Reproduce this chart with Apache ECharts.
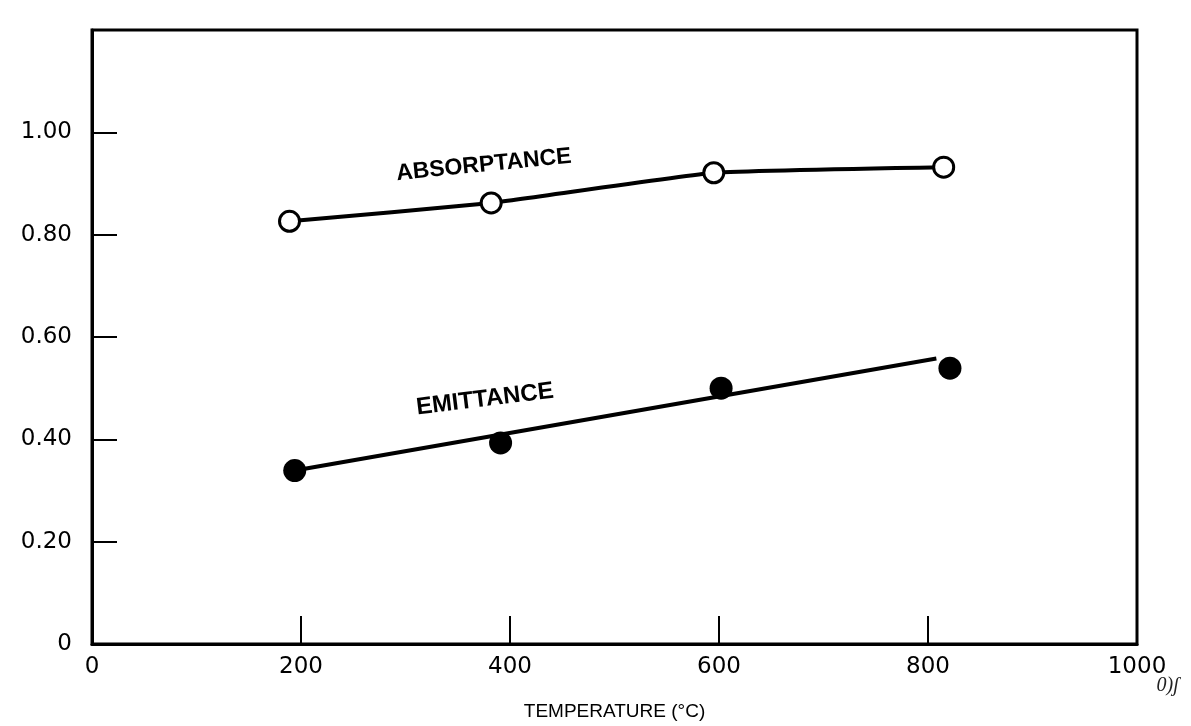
<!DOCTYPE html>
<html>
<head>
<meta charset="utf-8">
<script src="https://cdn.jsdelivr.net/npm/echarts@6/dist/echarts.min.js"></script>
<style>
  html, body { margin: 0; background: #fff; }
  #chart { width: 1191px; height: 726px; }
</style>
</head>
<body>
<div id="chart"></div>
<script>
// data
const absorpTemp = [189, 382, 595, 815]
const absorpVal = [0.826, 0.862, 0.921, 0.932]
const emitTemp = [194, 391, 602, 821]
const emitVal = [0.339, 0.393, 0.500, 0.539]
// straight line drawn through the emittance points (stops short of the last one)
const emitFitTemp = [194, 808]
const emitFitVal = [0.339, 0.558]
const xTicks = [0, 200, 400, 600, 800, 1000]
const yTicks = [0, 0.2, 0.4, 0.6, 0.8, 1.0]

const chart = echarts.init(document.getElementById('chart'))
const tickFont = { fontFamily: 'DejaVu Sans', fontSize: 23, color: '#000' }

chart.setOption({
  backgroundColor: '#fff',
  animation: false,
  grid: {
    left: 92, right: 54, top: 30, bottom: 78,
    show: true, borderColor: '#000', borderWidth: 3
  },
  xAxis: {
    type: 'value', min: 0, max: 1000, interval: 200,
    name: 'TEMPERATURE (°C)', nameLocation: 'middle', nameGap: 58,
    nameTextStyle: { fontFamily: 'Liberation Sans', fontSize: 19, color: '#000' },
    axisLine: { show: true, lineStyle: { color: '#000', width: 3 } },
    axisTick: { inside: true, length: 28, lineStyle: { color: '#000', width: 2 } },
    axisLabel: Object.assign({ margin: 12, formatter: v => xTicks.includes(v) ? String(v) : '' }, tickFont),
    splitLine: { show: false }
  },
  yAxis: {
    type: 'value', min: 0, max: 1.2, interval: 0.2,
    axisLine: { show: true, lineStyle: { color: '#000', width: 3 } },
    axisTick: { inside: true, length: 25, lineStyle: { color: '#000', width: 2 } },
    axisLabel: Object.assign({
      margin: 20,
      formatter: v => {
        const t = yTicks.find(y => Math.abs(y - v) < 1e-6)
        if (t === undefined) return ''
        return t === 0 ? '0' : t.toFixed(2)
      }
    }, tickFont),
    splitLine: { show: false }
  },
  series: [
    {
      name: 'ABSORPTANCE',
      type: 'line',
      smooth: 0.12,
      data: absorpTemp.map((t, i) => [t, absorpVal[i]]),
      symbol: 'circle',
      symbolSize: 20,
      lineStyle: { color: '#000', width: 4 },
      itemStyle: { color: '#fff', borderColor: '#000', borderWidth: 3 },
      z: 3
    },
    {
      name: 'emittance fit',
      type: 'line',
      data: emitFitTemp.map((t, i) => [t, emitFitVal[i]]),
      showSymbol: false,
      lineStyle: { color: '#000', width: 4 },
      z: 2
    },
    {
      name: 'EMITTANCE',
      type: 'scatter',
      data: emitTemp.map((t, i) => [t, emitVal[i]]),
      symbol: 'circle',
      symbolSize: 23,
      itemStyle: { color: '#000', opacity: 1 },
      z: 4
    }
  ]
})

// curve labels, placed in data coordinates
const absLabelPos = chart.convertToPixel({ gridIndex: 0 }, [375, 0.936])
const emitLabelPos = chart.convertToPixel({ gridIndex: 0 }, [376, 0.478])
const labelStyle = { fontFamily: 'Liberation Sans', fontSize: 23, fontWeight: 'bold', fill: '#000', align: 'center', verticalAlign: 'middle' }

chart.setOption({
  graphic: [
    {
      type: 'text', x: absLabelPos[0], y: absLabelPos[1], rotation: 5.7 * Math.PI / 180,
      style: Object.assign({ text: 'ABSORPTANCE' }, labelStyle)
    },
    {
      type: 'text', x: emitLabelPos[0], y: emitLabelPos[1], rotation: 7 * Math.PI / 180,
      style: Object.assign({ text: 'EMITTANCE' }, labelStyle, { fontSize: 24 })
    },
    {
      type: 'text', right: 12, top: 676,
      style: { text: '0)ʃ', font: 'italic 20px serif', fill: '#222' }
    }
  ]
})
</script>
</body>
</html>
